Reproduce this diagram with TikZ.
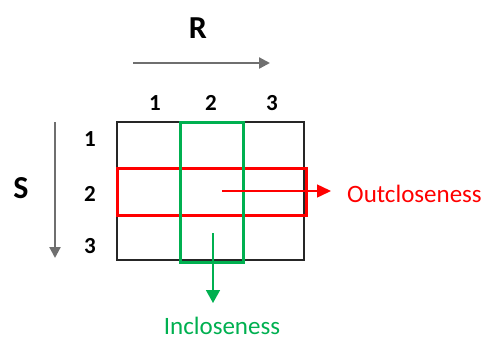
\documentclass[tikz,border=0pt]{standalone}
\usepackage{fontspec}
\setmainfont{Carlito}
\usetikzlibrary{arrows.meta}
\definecolor{officegreen}{HTML}{00B050}
\definecolor{axisgray}{HTML}{6F6F6F}
\tikzset{
  gridline/.style={draw=black!85, line width=1.3pt},
  rowbox/.style={draw=red, line width=3pt},
  colbox/.style={draw=officegreen, line width=3pt},
  axisarrow/.style={draw=axisgray, line width=2.3pt, -{Triangle[length=11pt,width=11pt]}},
  outarrow/.style={draw=red, line width=1.5pt, -{Triangle[length=14pt,width=13pt]}},
  inarrow/.style={draw=officegreen, line width=1.5pt, -{Triangle[length=13pt,width=14pt]}},
  axislabel/.style={font=\fontsize{32}{34}\selectfont\bfseries, inner sep=0pt},
  idx/.style={font=\fontsize{23}{26}\selectfont\bfseries, inner sep=0pt},
  caption/.style={font=\fontsize{25}{28}\selectfont, inner sep=0pt}
}
\begin{document}
\begin{tikzpicture}[x=1pt, y=-1pt]
  \useasboundingbox (0,0) rectangle (491,341);

  % 3x3 grid
  \draw[gridline] (117,122) rectangle (304,260);
  \draw[gridline] (180,122) -- (180,260) (243,122) -- (243,260);
  \draw[gridline] (117,168) -- (304,168) (117,215) -- (304,215);

  % highlighted row and column
  \draw[rowbox] (117,168) rectangle (306,215);
  \draw[colbox] (180,122) rectangle (243,262);

  % axes
  \node[axislabel] (R) at (198,28) {R};
  \coordinate (rstart) at (133,63);
  \coordinate (rend) at (270,63);
  \draw[axisarrow] (rstart) -- (rend);

  \node[axislabel] (S) at (21,188) {S};
  \coordinate (sstart) at (55,122);
  \coordinate (send) at (55,258);
  \draw[axisarrow] (sstart) -- (send);

  % column indices
  \node[idx] (c1) at (155,103) {1};
  \node[idx] (c2) at (211,103) {2};
  \node[idx] (c3) at (272,103) {3};

  % row indices
  \node[idx] (r1) at (90,139) {1};
  \node[idx] (r2) at (90,194) {2};
  \node[idx] (r3) at (90,246) {3};

  % outgoing / incoming closeness
  \coordinate (outstart) at (222,191);
  \node[caption, text=red, anchor=west] (out) at (347,194) {Outcloseness};
  \draw[outarrow] (outstart) -- (331,191);

  \coordinate (instart) at (213,233);
  \node[caption, text=officegreen] (in) at (222,326) {Incloseness};
  \draw[inarrow] (instart) -- (213,303);
\end{tikzpicture}
\end{document}
